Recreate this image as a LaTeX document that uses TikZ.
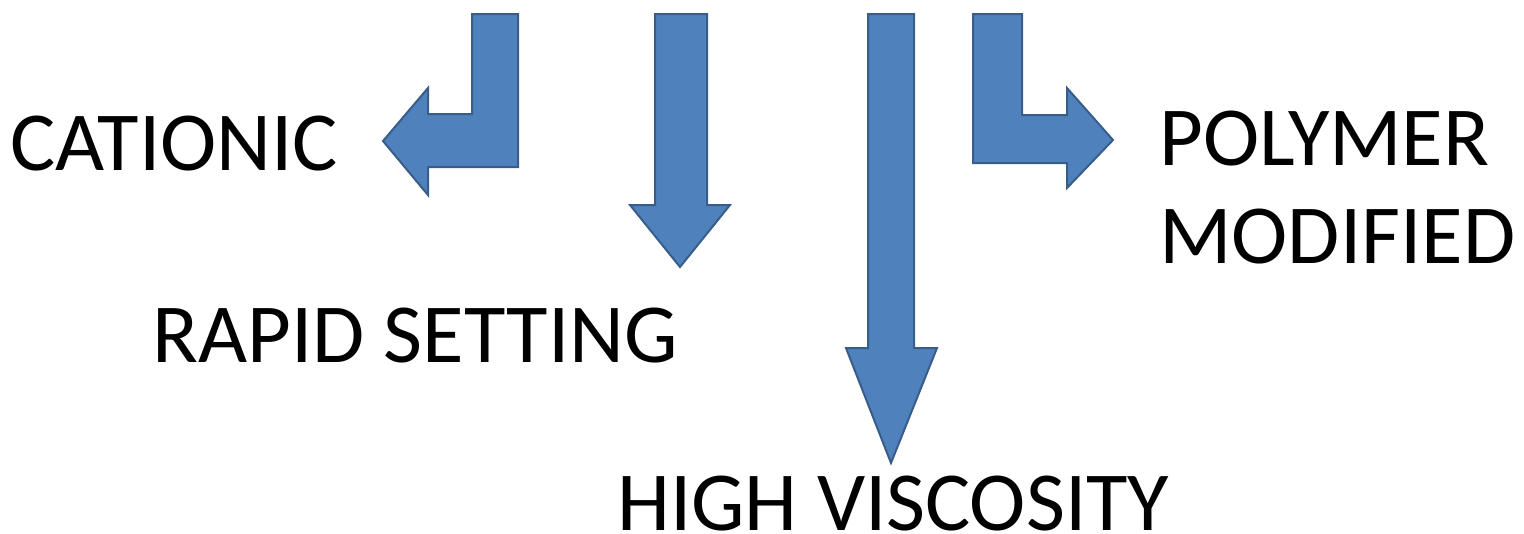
\documentclass[tikz,border=0pt]{standalone}
\usepackage{fontspec}
\setmainfont{Carlito}
\definecolor{arrowfill}{HTML}{4F81BD}
\definecolor{arrowline}{HTML}{385D8A}
\tikzset{
  bigarrow/.style={fill=arrowfill, draw=arrowline, line width=2pt, line join=miter},
  label/.style={anchor=base west, inner sep=0pt, text depth=0pt, font=\fontsize{84}{98}\selectfont, text=black, xscale=1.01}
}
\begin{document}
\begin{tikzpicture}[x=1pt,y=-1pt]
\useasboundingbox (0,0) rectangle (1524,533);
% arrows
\draw[bigarrow] (472,14) -- (518,14) -- (518,167) -- (428,167) -- (428,195) -- (383,141) -- (428,88) -- (428,114) -- (472,114) -- cycle;
\draw[bigarrow] (655,14) -- (707,14) -- (707,205) -- (730,205) -- (680,267) -- (630,205) -- (655,205) -- cycle;
\draw[bigarrow] (868,14) -- (914,14) -- (914,348) -- (937,348) -- (891,463) -- (846,348) -- (868,348) -- cycle;
\draw[bigarrow] (973,14) -- (1022,14) -- (1022,115) -- (1067,115) -- (1067,88) -- (1113,140) -- (1067,188) -- (1067,163) -- (973,163) -- cycle;
% labels
\node[label] (cat) at (10,170) {CATIONIC};
\node[label] (rap) at (152,362) {RAPID SETTING};
\node[label] (hig) at (617,530) {HIGH VISCOSITY};
\node[label] (pol) at (1159,165) {POLYMER};
\node[label] (mod) at (1159,263) {MODIFIED};
\end{tikzpicture}
\end{document}
